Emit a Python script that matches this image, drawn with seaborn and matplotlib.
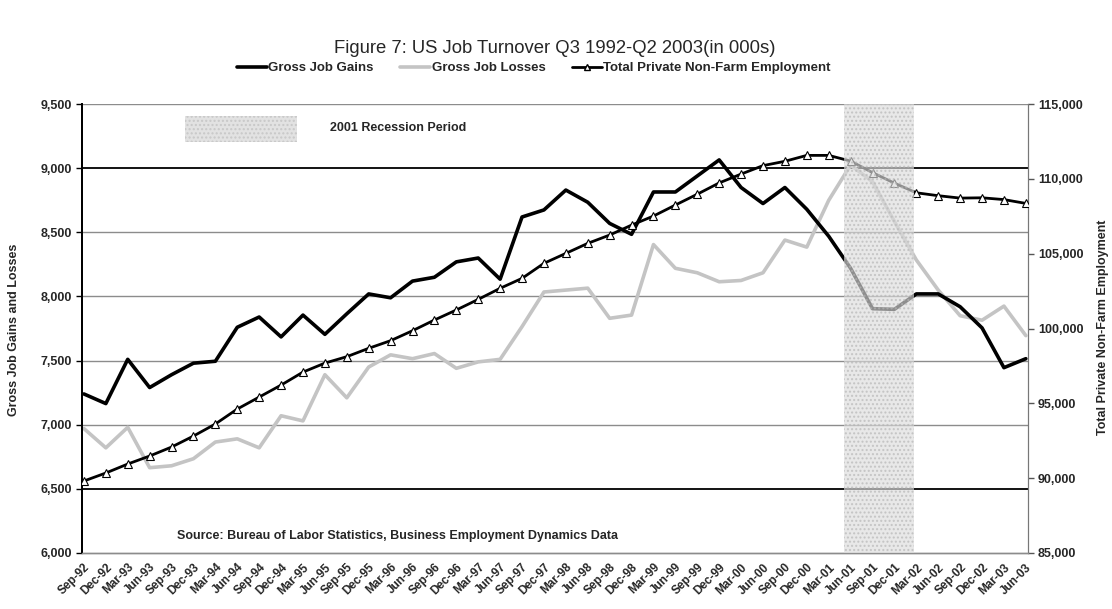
import numpy as np
import pandas as pd
import matplotlib
matplotlib.use("Agg")
import matplotlib.pyplot as plt
import seaborn as sns
from matplotlib.ticker import StrMethodFormatter
from matplotlib.patches import Rectangle
from matplotlib.lines import Line2D

# -----------------------------
# Data (in 000s), quarterly Sep-92 .. Jun-03
# -----------------------------
quarters = ["Sep-92", "Dec-92",
            "Mar-93", "Jun-93", "Sep-93", "Dec-93",
            "Mar-94", "Jun-94", "Sep-94", "Dec-94",
            "Mar-95", "Jun-95", "Sep-95", "Dec-95",
            "Mar-96", "Jun-96", "Sep-96", "Dec-96",
            "Mar-97", "Jun-97", "Sep-97", "Dec-97",
            "Mar-98", "Jun-98", "Sep-98", "Dec-98",
            "Mar-99", "Jun-99", "Sep-99", "Dec-99",
            "Mar-00", "Jun-00", "Sep-00", "Dec-00",
            "Mar-01", "Jun-01", "Sep-01", "Dec-01",
            "Mar-02", "Jun-02", "Sep-02", "Dec-02",
            "Mar-03", "Jun-03"]

gains = [7240, 7165, 7510, 7290, 7390, 7480, 7495, 7760, 7840, 7685,
         7855, 7705, 7865, 8020, 7990, 8120, 8150, 8270, 8300, 8135,
         8620, 8675, 8830, 8735, 8570, 8485, 8815, 8815, 8940, 9065,
         8850, 8725, 8850, 8680, 8470, 8220, 7905, 7900, 8020, 8020,
         7920, 7755, 7445, 7515]

losses = [6970, 6820, 6980, 6665, 6680, 6735, 6865, 6890, 6820, 7070,
          7030, 7390, 7210, 7450, 7545, 7515, 7555, 7440, 7490, 7510,
          7765, 8035, 8050, 8065, 7830, 7855, 8405, 8220, 8185, 8115,
          8125, 8185, 8440, 8385, 8750, 9025, 8895, 8585, 8285, 8050,
          7850, 7815, 7925, 7695]

employment = [89810, 90345, 90945, 91480, 92080, 92815, 93620, 94620, 95420, 96220,
              97090, 97690, 98120, 98680, 99190, 99855, 100570, 101240, 101950, 102690,
              103355, 104360, 105025, 105695, 106250, 106915, 107520, 108255, 108980, 109735,
              110325, 110890, 111180, 111575, 111575, 111195, 110425, 109720, 109075, 108880,
              108720, 108740, 108620, 108365]

df = pd.DataFrame({"quarter": quarters, "gains": gains,
                   "losses": losses, "employment": employment})
df["pos"] = np.arange(len(df))

# -----------------------------
# Style
# -----------------------------
sns.set_style("white")
narrow = ["Liberation Sans Narrow", "Liberation Sans", "DejaVu Sans"]
plt.rcParams["font.family"] = narrow

fig = plt.figure(figsize=(11.12, 6.09), dpi=100)
ax = fig.add_axes([0.0735, 0.092, 0.851, 0.737])
ax2 = ax.twinx()

# gridlines
for v in range(6500, 9501, 500):
    dark = v in (6500, 9000)
    ax.axhline(v, color="black" if dark else "#8c8c8c",
               lw=1.3 if dark else 1.0, zorder=0)

sns.lineplot(data=df, x="pos", y="gains", ax=ax, color="black", lw=2.6, zorder=3)
sns.lineplot(data=df, x="pos", y="losses", ax=ax, color="#c4c4c4", lw=2.6, zorder=2)
sns.lineplot(data=df, x="pos", y="employment", ax=ax2, color="black", lw=2.0,
             marker="^", markersize=5.5, markerfacecolor="white",
             markeredgecolor="black", markeredgewidth=0.8, zorder=3)

# 2001 recession band
ax2.axvspan(34.7, 37.9, facecolor="#dcdcdc", edgecolor="#b5b5b5", hatch="....",
            lw=0, alpha=0.65, zorder=5)

ax.set_xlim(-0.1, 43.1)
ax.set_ylim(6000, 9500)
ax2.set_ylim(85000, 115000)
ax.set_yticks(range(6000, 9501, 500))
ax2.set_yticks(range(85000, 115001, 5000))
ax.yaxis.set_major_formatter(StrMethodFormatter("{x:,.0f}"))
ax2.yaxis.set_major_formatter(StrMethodFormatter("{x:,.0f}"))

ax.set_xticks(df["pos"])
ax.set_xticklabels(quarters, rotation=45, ha="right", rotation_mode="anchor",
                   fontsize=8.5, fontweight="bold")
for lab in ax.get_yticklabels() + ax2.get_yticklabels():
    lab.set_fontsize(9)
    lab.set_fontweight("bold")

ax.tick_params(axis="both", direction="out", length=4, width=1, color="black", pad=3)
ax.tick_params(axis="x", pad=2)
ax2.tick_params(axis="y", direction="out", length=4, width=1, color="#555555", pad=3)
ax.set_xlabel("")
ax.set_ylabel("")
ax2.set_ylabel("")

for a in (ax, ax2):
    a.spines["top"].set_visible(False)
    a.spines["left"].set_color("black")
    a.spines["left"].set_linewidth(1.4)
    a.spines["right"].set_color("#777777")
    a.spines["bottom"].set_color("#8c8c8c")
    a.spines["bottom"].set_linewidth(1.0)

# recession key
ax.add_patch(Rectangle((0.109, 0.915), 0.118, 0.058, transform=ax.transAxes,
                       facecolor="#e2e2e2", edgecolor="#c8c8c8", hatch="....",
                       lw=0, zorder=4))
ax.text(0.262, 0.947, "2001 Recession Period", transform=ax.transAxes,
        fontsize=9, fontweight="bold", va="center", ha="left")
ax.text(0.1007, 0.038, "Source: Bureau of Labor Statistics, Business Employment Dynamics Data",
        transform=ax.transAxes, fontsize=9, fontweight="bold", va="center", ha="left")

# titles and axis labels
fig.text(0.499, 0.921, "Figure 7: US Job Turnover Q3 1992-Q2 2003(in 000s)",
         ha="center", va="center", fontsize=13.3, family=["Liberation Sans", "DejaVu Sans"])
fig.text(0.0126, 0.458, "Gross Job Gains and Losses", rotation=90,
         ha="center", va="center", fontsize=9, fontweight="bold")
fig.text(0.992, 0.463, "Total Private Non-Farm Employment", rotation=90,
         ha="center", va="center", fontsize=9, fontweight="bold")

handles = [Line2D([], [], color="black", lw=2.6),
           Line2D([], [], color="#c4c4c4", lw=2.6),
           Line2D([], [], color="black", lw=2.0, marker="^", markersize=5,
                  markerfacecolor="white", markeredgecolor="black")]
fig.legend(handles, ["Gross Job Gains", "Gross Job Losses",
                     "Total Private Non-Farm Employment"],
           loc="center", bbox_to_anchor=(0.48, 0.888), ncol=3, frameon=False,
           prop={"weight": "bold", "size": 9.5}, handlelength=2.3,
           handletextpad=0.1, columnspacing=2.0)

fig.savefig("out.png", dpi=100)
